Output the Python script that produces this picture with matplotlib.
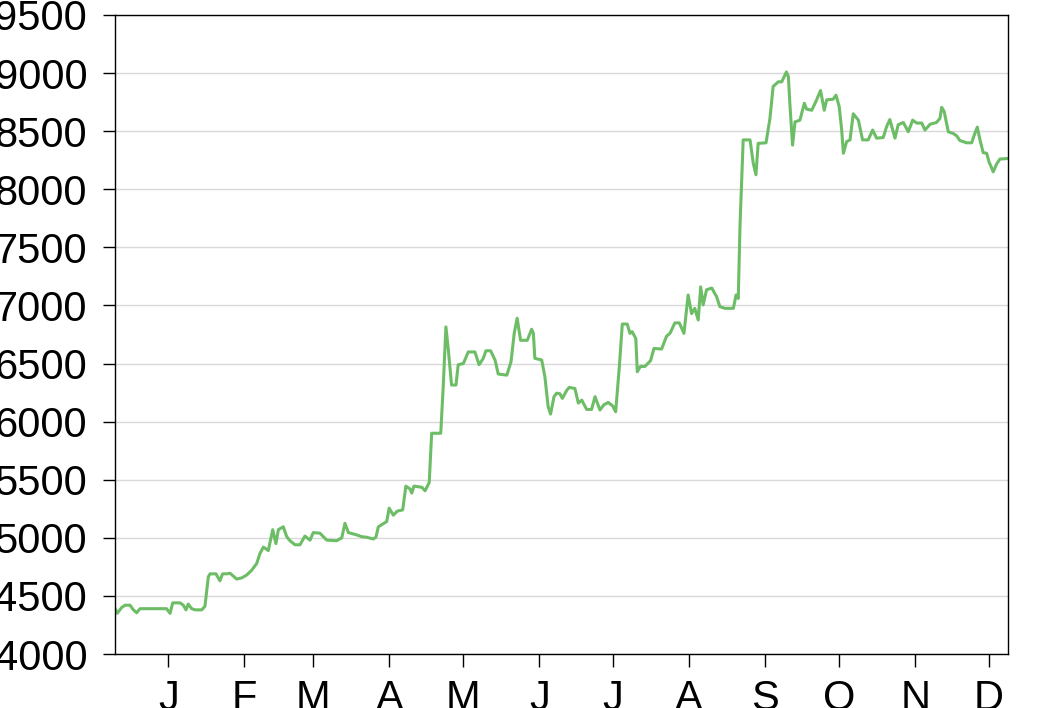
import matplotlib
matplotlib.use("Agg")
import matplotlib.pyplot as plt

plt.rcParams['font.family'] = ['Liberation Sans', 'DejaVu Sans']

# day offsets from Jan 1 (negative = previous December) and values
days = [-21.7, -20.8, -19.0, -17.6, -15.6, -14.2, -12.9, -11.5, -0.7, 0.7,
        1.8, 4.8, 6.1, 7.2, 8.1, 9.5, 10.9, 13.6, 14.9, 16.3,
        17.0, 19.4, 21.0, 22.1, 23.8, 25.1, 26.5, 27.8, 29.9, 31.9,
        33.9, 36.0, 37.3, 38.7, 40.7, 42.5, 43.8, 44.8, 46.8, 48.2,
        49.5, 51.6, 53.6, 55.6, 57.7, 59.0, 61.7, 64.5, 68.5, 70.6,
        71.9, 73.3, 76.7, 78.7, 80.7, 83.4, 84.5, 85.5, 88.9, 89.9,
        91.6, 93.2, 95.4, 96.7, 98.4, 99.1, 100.0, 103.2, 104.5, 106.2,
        107.2, 110.9, 111.9, 113.0, 114.0, 115.3, 117.1, 118.0, 120.1, 122.1,
        124.8, 126.5, 128.2, 129.3, 131.2, 133.0, 134.3, 137.8, 139.5, 140.8,
        142.0, 143.4, 146.1, 147.9, 148.6, 149.2, 152.0, 153.3, 154.6, 155.6,
        157.0, 158.1, 159.4, 160.4, 162.2, 163.2, 165.5, 166.9, 168.3, 170.3,
        172.3, 173.7, 175.7, 177.3, 179.1, 180.9, 182.1, 183.6, 184.8, 186.8,
        187.9, 188.8, 190.3, 190.9, 192.2, 194.0, 196.3, 197.7, 200.8, 202.8,
        204.2, 206.2, 208.0, 209.9, 211.6, 213.0, 214.3, 215.7, 216.7, 217.7,
        219.1, 221.2, 223.2, 224.5, 226.6, 230.0, 231.1, 232.0, 232.7, 234.0,
        236.8, 238.1, 239.2, 240.1, 243.3, 244.9, 246.2, 248.3, 249.7, 251.6,
        252.4, 253.0, 254.1, 255.1, 257.1, 258.9, 259.8, 261.9, 263.6, 265.5,
        267.0, 268.0, 270.6, 271.8, 273.1, 274.1, 274.8, 276.1, 277.5, 278.8,
        280.9, 282.6, 284.9, 286.7, 288.3, 291.0, 292.4, 293.7, 295.8, 297.1,
        299.2, 301.2, 303.0, 304.6, 306.7, 308.0, 310.1, 312.7, 314.1, 314.8,
        315.8, 317.5, 319.5, 320.9, 322.2, 324.9, 327.0, 328.3, 329.3, 330.4,
        331.7, 333.1, 334.1, 335.8, 337.1, 338.5, 341.8]

values = [4393, 4350, 4400, 4420, 4420, 4380, 4355, 4390, 4390, 4350,
          4440, 4440, 4420, 4380, 4430, 4390, 4380, 4380, 4410, 4665,
          4690, 4690, 4630, 4690, 4690, 4695, 4670, 4645, 4655, 4680,
          4720, 4780, 4865, 4920, 4890, 5070, 4950, 5070, 5095, 5010,
          4975, 4940, 4940, 5015, 4980, 5045, 5040, 4980, 4975, 5000,
          5125, 5045, 5025, 5010, 5005, 4990, 5005, 5095, 5140, 5255,
          5195, 5230, 5240, 5445, 5420, 5385, 5445, 5435, 5405, 5475,
          5900, 5900, 6300, 6815, 6615, 6315, 6315, 6490, 6500, 6600,
          6600, 6490, 6545, 6610, 6610, 6530, 6410, 6400, 6515, 6760,
          6890, 6700, 6700, 6795, 6760, 6545, 6530, 6385, 6130, 6065,
          6215, 6245, 6240, 6200, 6270, 6295, 6285, 6160, 6185, 6105,
          6105, 6215, 6100, 6145, 6165, 6135, 6085, 6475, 6840, 6840,
          6760, 6775, 6715, 6430, 6475, 6475, 6525, 6630, 6625, 6735,
          6760, 6850, 6850, 6760, 7090, 6930, 6975, 6875, 7160, 7005,
          7135, 7150, 7075, 6990, 6975, 6975, 7090, 7060, 7680, 8425,
          8425, 8225, 8125, 8395, 8400, 8610, 8885, 8925, 8925, 9010,
          8970, 8740, 8380, 8580, 8595, 8740, 8690, 8680, 8755, 8850,
          8680, 8770, 8775, 8810, 8710, 8510, 8310, 8410, 8425, 8650,
          8595, 8425, 8425, 8510, 8440, 8445, 8540, 8600, 8440, 8555,
          8575, 8495, 8595, 8570, 8570, 8510, 8560, 8575, 8610, 8705,
          8670, 8495, 8480, 8460, 8420, 8400, 8400, 8480, 8535, 8425,
          8315, 8310, 8235, 8150, 8215, 8260, 8265]

month_starts = [0, 31, 59, 90, 120, 151, 181, 212, 243, 273, 304, 334]
month_labels = ['J', 'F', 'M', 'A', 'M', 'J', 'J', 'A', 'S', 'O', 'N', 'D']
y_ticks = list(range(4000, 10000, 500))

fig = plt.figure(figsize=(10.4, 7.08), dpi=100)
ax = fig.add_axes([115 / 1040, 1 - 654 / 708, (1008 - 115) / 1040, (654 - 15) / 708])

ax.plot(days, values, color='#6cbd66', linewidth=2.2, solid_joinstyle='round')

ax.set_xlim(-21.7, 341.8)
ax.set_ylim(4000, 9500)
ax.set_xticks(month_starts)
ax.set_xticklabels(month_labels)
ax.set_yticks(y_ticks)

ax.grid(axis='y', color='#d9d9d9', linewidth=1.0)
ax.set_axisbelow(True)
for s in ax.spines.values():
    s.set_color('black')
    s.set_linewidth(1.0)

ax.tick_params(axis='both', direction='out', length=9, width=1.0, labelsize=30, colors='black')
ax.tick_params(axis='y', pad=11)
ax.tick_params(axis='x', pad=9)

fig.savefig('out.png', dpi=100)
